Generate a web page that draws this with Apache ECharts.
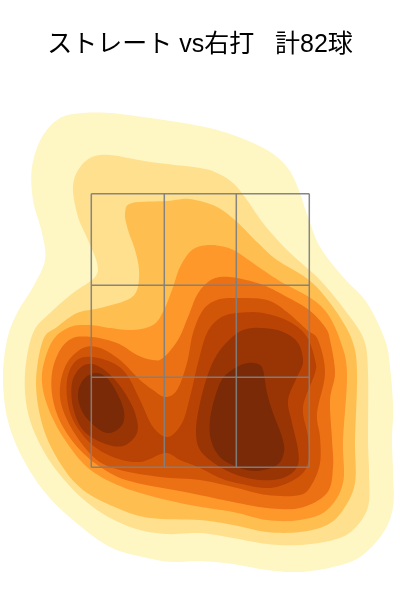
<!DOCTYPE html>
<html><head><meta charset="utf-8">
<style>html,body{margin:0;padding:0;background:#fff}#c{width:400px;height:600px}</style>
<script src="https://cdn.jsdelivr.net/npm/echarts@6/dist/echarts.min.js"></script>
</head><body><div id="c"></div>
<script>
const titleText = 'ストレート vs右打   計82球';
const levelColors = ['#fef6c3','#fee08f','#febf50','#fe982a','#ec7014','#d25608','#b84304','#993404','#7a2a06'];
const zoneX = [9.13,16.43,23.63,30.93];
const zoneY = [13.27,22.27,31.47,40.63];
const level1 = [[8.3,48.7],[6,48.2],[4.2,46.3],[3.2,43.3],[3.3,40],[4.2,36.7],[4.5,34],[3.3,31.3],[1.7,28.7],[0.7,26],[0.3,22.3],[0.7,18.3],[2,14.7],[4.3,11],[7.3,8],[11,5.3],[14.7,4.2],[17.3,3.8],[20,3.9],[23.3,3.6],[26.7,3],[30,2.8],[33.3,3.3],[36,4.3],[38.3,6.7],[39.3,9.3],[39.3,12.7],[39.2,16],[39.3,19.3],[39,23.3],[38.5,26],[36.7,29.7],[34.3,32.3],[32,35.3],[30.8,38.3],[29.8,41.2],[28.7,43.3],[26.7,45],[23.3,46.5],[20,47.4],[15,48.2],[11,48.7]];
const level2 = [[11,44.5],[9,44.2],[7.7,42.8],[7.3,41],[7.8,38.3],[8.8,36],[9.7,33.7],[9.5,32.3],[7.3,30.7],[5,28.7],[3.3,26.7],[2.5,22.7],[2.8,18.7],[4.3,15],[6.7,11.7],[9.7,9],[13.3,7.2],[16.7,6.6],[20,6.7],[23.3,6.2],[26.7,5.6],[30,5.5],[33.3,6],[35.3,7],[36.8,9.3],[36.9,12.7],[36.8,16],[36.8,22.7],[36.4,26],[34.7,28.7],[32,32],[28.7,35],[26.3,37.7],[24.7,40],[23.3,41.7],[21.7,42.7],[20,43.2],[15,43.8]];
const level3 = [[13.2,39.7],[16.7,39.9],[19,40.1],[21.7,39.3],[23.7,37.8],[25.7,35.8],[27.7,34],[30.9,32],[33.3,29.3],[35.2,26],[35.7,22.7],[35.5,16],[35.5,11.7],[34.3,9],[32.7,7.5],[30,6.8],[26.7,6.8],[23.3,7.5],[20,8],[15,8.2],[11.7,9.2],[8.3,11],[6,13.7],[4.3,17.3],[3.6,21.7],[4.3,26],[5.7,27.3],[7.7,28.7],[10,29.2],[12.7,30],[13.7,31],[13.9,33],[13.5,35],[12.8,37],[12.5,38.7]];
const level4 = [[20.8,35.5],[19.2,35],[18,33.3],[17.2,31],[16.3,28.8],[15.3,27.5],[13.3,27],[11,27.2],[9,27.5],[7,27.3],[5.3,26],[4.3,23.3],[4.3,21],[5.2,18.3],[6.7,15.7],[8.7,13.3],[11.3,11.7],[14.7,10.5],[19,9.5],[23.3,8.8],[26.7,8],[30,8],[32.7,9],[34.3,11.7],[34.3,16],[34.7,22.7],[34,26],[32.7,28.7],[30.9,30.3],[28.3,31.7],[26,33.2],[23.7,34.8],[22.5,35.3]];
const level5 = [[23.7,32.2],[22,32.3],[20.8,31.8],[19.7,30.5],[18.8,28.3],[17.8,26],[16.3,24.2],[15.3,24],[13.7,24.5],[11.7,25.7],[9.2,26.3],[7.3,26.2],[6,25],[5.2,22.7],[5.3,20],[6.3,17.3],[8.3,14.7],[11,12.7],[13.7,11.7],[19,10.7],[23.3,9.8],[26.7,9.2],[30,9.2],[32.7,10.7],[33.3,13.3],[33.2,16],[33,20],[33.5,22.7],[33,26],[32.5,27.3],[30.9,29],[28.7,30.3],[26.3,31.5]];
const level6 = [[23.7,30.2],[21.7,30],[20.3,29],[19.3,26.7],[18.7,23.7],[17.7,21],[16.5,20.3],[15.3,21],[14,22],[12,24],[10,25.2],[8.3,25.2],[6.7,23.7],[6,21.3],[6.3,19],[7.7,16.3],[9.7,14],[12,13],[16,12.3],[20,12],[23.3,11.3],[26.7,10.5],[30,10.5],[31.2,11.6],[32,13.7],[32,16.3],[31.7,18.7],[32.5,22.7],[31.8,26],[30.7,27],[28.7,28.8],[26.7,30]];
const level7 = [[23.7,28.7],[22,28.2],[20.7,26.7],[19.8,23.7],[19,20.3],[18.2,17.7],[16.8,16.3],[15.3,17.3],[14,20],[12.7,22.5],[11.3,23.7],[9.2,24.3],[7.7,24],[6.8,22.5],[6.7,20.3],[7.3,18],[9,15.7],[11.3,14.3],[14,13.8],[16.5,14.7],[18,14],[20,13.2],[22,12.2],[23.7,11.7],[27,11.2],[29.7,12.2],[30.8,13.7],[30.8,16.3],[30.3,19.3],[31.5,22.7],[31.5,24],[30.7,26.3],[29,27.8],[26.3,28.7]];
const level8Left = [[9.2,23.6],[8,23.2],[7.2,21.7],[7.3,19.3],[8.3,17],[10.3,15.7],[12.3,15.4],[13.7,16.7],[13.5,18.7],[12.3,21],[10.7,22.8]];
const level8Right = [[26.3,27.2],[24.3,27],[22.7,25.8],[21.5,24.2],[20.7,22.3],[20,19.7],[19.6,17],[20,15],[21.7,13.5],[23.7,12.5],[26,12],[28.3,12.2],[29.7,13.3],[29.8,15],[29.2,17.7],[28.8,20],[29.7,22.3],[30.3,23.8],[29.8,25.7],[28.3,26.8]];
const level9Left = [[9.5,22.7],[8.3,22],[7.8,20.5],[8.3,18.7],[9.7,17.2],[11,16.7],[12.2,17.5],[12.4,18.8],[11.8,20.5],[10.7,22.2]];
const level9Right = [[24.8,23.7],[23.7,23.3],[22.3,22.2],[21.5,20.3],[21,18],[21.1,16],[22,14.3],[23.7,13.3],[25.7,12.9],[27.7,13.5],[28.4,14.8],[28.2,16.3],[27.3,18.7],[26.7,20.7],[26.3,23],[25.8,23.6]];

const rings = [
  [0,level1],[1,level2],[2,level3],[3,level4],[4,level5],[5,level6],[6,level7],
  [7,level8Left],[7,level8Right],[8,level9Left],[8,level9Right]
];
// Closed Catmull-Rom curve through the scaled ring vertices (drawing only).
function curve(pts){
  const n=pts.length, out=[];
  for(let i=0;i<n;i++){
    const a=pts[(i-1+n)%n],b=pts[i],c=pts[(i+1)%n],d=pts[(i+2)%n];
    for(let k=0;k<8;k++){
      const t=k/8,t2=t*t,t3=t2*t;
      out.push([0,1].map(j=>0.5*(2*b[j]+(c[j]-a[j])*t+(2*a[j]-5*b[j]+4*c[j]-d[j])*t2+(3*b[j]-a[j]-3*c[j]+d[j])*t3)));
    }
  }
  return out;
}
const contourSeries = {
  type:'custom', coordinateSystem:'cartesian2d', silent:true, clip:false, z:2,
  data: rings.map((r,i)=>[r[1][0][0], r[1][0][1], i]),
  encode:{x:0,y:1},
  renderItem:(params,api)=>{
    const r = rings[api.value(2)];
    return {type:'polygon', shape:{points:curve(r[1].map(p=>api.coord(p)))}, style:{fill:levelColors[r[0]], stroke:null}};
  }
};
const gridLine = pts => ({type:'line', data:pts, symbol:'none', silent:true, z:5,
  lineStyle:{color:'#808080', width:1.5, opacity:0.95}});
const yLo = zoneY[0], yHi = zoneY[zoneY.length-1], xLo = zoneX[0], xHi = zoneX[zoneX.length-1];
const chart = echarts.init(document.getElementById('c'),null,{renderer:'canvas'});
chart.setOption({
  animation:false,
  backgroundColor:'#fff',
  title:{text:titleText,left:'center',top:28,textStyle:{fontFamily:'"Liberation Sans","Noto Sans CJK JP"',fontSize:25,fontWeight:'normal',color:'#000'}},
  grid:{left:0,right:0,top:0,bottom:0},
  xAxis:{type:'value',min:0,max:40,show:false},
  yAxis:{type:'value',min:0,max:60,show:false},
  series:[contourSeries,
    ...zoneX.map(x=>gridLine([[x,yLo],[x,yHi]])),
    ...zoneY.map(y=>gridLine([[xLo,y],[xHi,y]]))]
});
</script></body></html>
